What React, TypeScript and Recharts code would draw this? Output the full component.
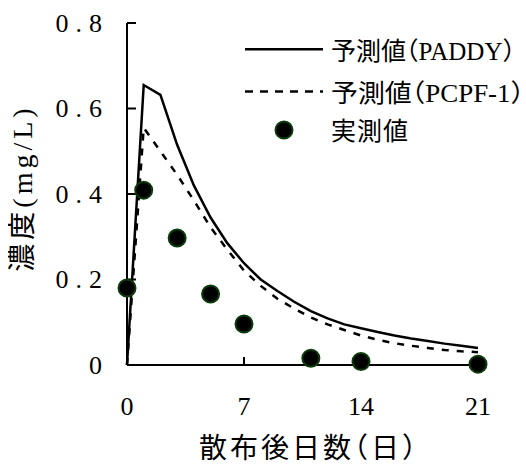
import React from 'react';
import { ComposedChart, Line, Scatter, XAxis, YAxis, Legend, ReferenceLine } from 'recharts';

const days = [0, 1, 2, 3, 4, 5, 6, 7, 8, 9, 10, 11, 12, 13, 14, 15, 16, 17, 18, 19, 20, 21];
const paddyValues = [0, 0.655, 0.632, 0.515, 0.42, 0.345, 0.285, 0.238, 0.2, 0.173, 0.148, 0.126, 0.109, 0.095, 0.086, 0.077, 0.069, 0.062, 0.056, 0.05, 0.045, 0.04];
const pcpfValues = [0, 0.555, 0.5, 0.445, 0.385, 0.322, 0.27, 0.221, 0.185, 0.155, 0.132, 0.111, 0.095, 0.082, 0.069, 0.059, 0.051, 0.045, 0.04, 0.035, 0.032, 0.03];
const measuredDays = [0, 1, 3, 5, 7, 11, 14, 21];
const measuredValues = [0.18, 0.409, 0.297, 0.166, 0.096, 0.016, 0.008, 0.002];
const xTicks = [0, 7, 14, 21];
const yTicks = [0, 0.2, 0.4, 0.6, 0.8];
const seriesNames = ['予測値（PADDY）', '予測値（PCPF-1）', '実測値'];
const xTitle = '散布後日数（日）';
const yTitle = '濃度(mg/L)';

const paddyData = days.map((d, i) => ({ day: d, value: paddyValues[i] }));
const pcpfData = days.map((d, i) => ({ day: d, value: pcpfValues[i] }));
const measuredData = measuredDays.map((d, i) => ({ day: d, value: measuredValues[i] }));

const FONT = "'Liberation Serif', 'Noto Sans CJK JP', serif";
const W = 518;
const H = 456;
const DOT_STROKE = '#0b3b0b';
const Y_MARGIN = 18;
const X_MARGIN = 33;
const HALT = { fontFeatureSettings: '"halt"' };

const fmtY = (v: number) => (v === 0 ? '0' : v.toFixed(1));

const renderYTick = (props: any) => {
  const { x, y, payload } = props;
  return (
    <text x={x} y={y} textAnchor="end" dominantBaseline="central" fontFamily={FONT} fontSize={26} fill="#000" letterSpacing={7}>
      {fmtY(payload.value)}
    </text>
  );
};

const renderXTick = (props: any) => {
  const { x, y, payload } = props;
  return (
    <text x={x} y={Number(y) + 17} textAnchor="middle" fontFamily={FONT} fontSize={26} fill="#000">
      {String(payload.value)}
    </text>
  );
};

// inner tick marks, positioned by the library's reference-line geometry
const yTickMark = (p: any) => {
  const x0 = Math.min(Number(p.x1), Number(p.x2));
  return <line x1={x0} x2={x0 + 9} y1={p.y1} y2={p.y1} stroke="#000" strokeWidth={2} />;
};
const xTickMark = (p: any) => {
  const y0 = Math.max(Number(p.y1), Number(p.y2));
  return <line x1={p.x1} x2={p.x1} y1={y0} y2={y0 - 8} stroke="#000" strokeWidth={2} />;
};

const XTitle = () => (
  <text x={301} y={450} textAnchor="middle" fontFamily={FONT} fontSize={28} fill="#000" letterSpacing={3} style={HALT}>
    {xTitle}
  </text>
);

const YTitle = () => {
  const cx = 14;
  const cy = 180;
  return (
    <text
      x={cx}
      y={cy}
      transform={`rotate(-90 ${cx} ${cy})`}
      textAnchor="middle"
      dominantBaseline="central"
      fontFamily={FONT}
      fontSize={28}
      fill="#000"
      letterSpacing={4}
    >
      {yTitle}
    </text>
  );
};

const Dot = (props: any) => {
  const { cx, cy } = props;
  if (cx == null || cy == null) return null;
  return <circle cx={cx} cy={cy} r={8.5} fill="#000" stroke={DOT_STROKE} strokeWidth={2} />;
};

const renderLegend = () => (
  <svg width={W} height={140} style={{ display: 'block', overflow: 'visible' }}>
    <line x1={237} x2={315} y1={41.3} y2={41.3} stroke="#000" strokeWidth={2.5} />
    <text x={323} y={43} dominantBaseline="central" fontFamily={FONT} fontSize={25} fill="#000"
      textLength={184} lengthAdjust="spacingAndGlyphs" style={HALT}>
      {seriesNames[0]}
    </text>
    <line x1={237} x2={315} y1={83.5} y2={83.5} stroke="#000" strokeWidth={2.5} strokeDasharray="8 7" />
    <text x={323} y={85} dominantBaseline="central" fontFamily={FONT} fontSize={25} fill="#000"
      textLength={193} lengthAdjust="spacingAndGlyphs" style={HALT}>
      {seriesNames[1]}
    </text>
    <circle cx={276} cy={122} r={8.5} fill="#000" stroke={DOT_STROKE} strokeWidth={2} />
    <text x={323} y={123} dominantBaseline="central" fontFamily={FONT} fontSize={25} fill="#000" letterSpacing={1}>
      {seriesNames[2]}
    </text>
  </svg>
);

export default function App() {
  return (
    <div style={{ position: 'absolute', left: 8, top: 8 }}>
      <ComposedChart width={W} height={H} margin={{ top: 15, right: 48, bottom: 0, left: 0 }}>
        <XAxis
          type="number"
          dataKey="day"
          domain={[0, 21]}
          ticks={xTicks}
          height={99}
          tickSize={0}
          tickMargin={X_MARGIN}
          axisLine={{ stroke: '#000', strokeWidth: 2 }}
          tickLine={false}
          tick={renderXTick}
          label={<XTitle />}
        />
        <YAxis
          type="number"
          dataKey="value"
          domain={[0, 0.8]}
          ticks={yTicks}
          width={119}
          tickSize={0}
          tickMargin={Y_MARGIN}
          axisLine={{ stroke: '#000', strokeWidth: 2 }}
          tickLine={false}
          tick={renderYTick}
          label={<YTitle />}
        />
        {yTicks.map((v) => (
          <ReferenceLine key={`yt-${v}`} y={v} ifOverflow="visible" shape={yTickMark} />
        ))}
        {xTicks.map((v) => (
          <ReferenceLine key={`xt-${v}`} x={v} ifOverflow="visible" shape={xTickMark} />
        ))}
        <Legend
          layout="horizontal"
          verticalAlign="middle"
          align="center"
          wrapperStyle={{ left: 0, top: 0, width: W, height: 140, pointerEvents: 'none' }}
          content={renderLegend}
        />
        <Line data={paddyData} dataKey="value" name={seriesNames[0]} stroke="#000" strokeWidth={2.5} dot={false} type="linear" isAnimationActive={false} />
        <Line data={pcpfData} dataKey="value" name={seriesNames[1]} stroke="#000" strokeWidth={2.5} strokeDasharray="7 8" dot={false} type="linear" isAnimationActive={false} />
        <Scatter data={measuredData} dataKey="value" name={seriesNames[2]} shape={<Dot />} isAnimationActive={false} />
      </ComposedChart>
    </div>
  );
}
